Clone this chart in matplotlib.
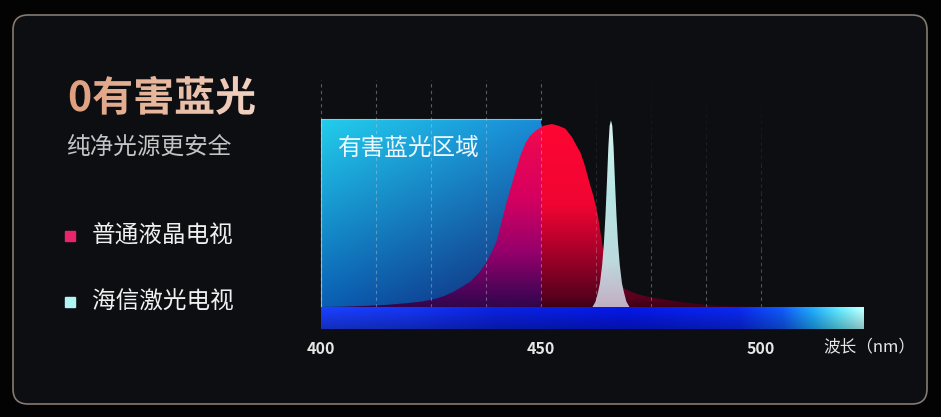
import numpy as np
import matplotlib
matplotlib.use("Agg")
import matplotlib.pyplot as plt
from matplotlib.patches import FancyBboxPatch, Rectangle, PathPatch
from matplotlib.textpath import TextPath
from matplotlib.font_manager import FontProperties
from matplotlib.transforms import Affine2D, blended_transform_factory

plt.rcParams['font.family'] = ['Noto Sans CJK SC', 'DejaVu Sans']

# ---------------- data ----------------
title = "0有害蓝光"
subtitle = "纯净光源更安全"
legend_labels = ["普通液晶电视", "海信激光电视"]
region_label = "有害蓝光区域"
x_ticks = [400, 450, 500]
x_tick_labels = ["400", "450", "500"]
x_label = "波长（nm）"
grid_nm = [400, 412.5, 425, 437.5, 450, 462.5, 475, 487.5, 500]
harmful_range = [400, 450]
spectrum_range = [400, 523.4]

lcd_nm = [400, 405, 410, 415, 420, 423, 426, 428, 430, 432, 434, 435, 436, 437.5, 439, 440,
          441, 442, 443, 444.5, 445.5, 446.5, 447.5, 449, 450.5, 452.5, 454, 455.5, 457, 458,
          459, 460, 461, 462, 463, 463.5, 464, 465, 466, 467, 468, 469, 470, 472, 474, 476,
          479, 482, 485, 488, 491, 495, 500]
lcd_val = [0, 0.002, 0.006, 0.012, 0.022, 0.03, 0.045, 0.06, 0.082, 0.11, 0.14, 0.165, 0.19,
           0.24, 0.31, 0.366, 0.46, 0.557, 0.64, 0.765, 0.84, 0.896, 0.935, 0.967, 0.99, 1.0,
           0.99, 0.975, 0.93, 0.885, 0.842, 0.77, 0.68, 0.60, 0.49, 0.41, 0.33, 0.235, 0.18,
           0.145, 0.12, 0.10, 0.088, 0.07, 0.058, 0.049, 0.037, 0.027, 0.018, 0.011, 0.006,
           0.003, 0]

laser_nm = [461.7, 462.4, 462.95, 463.4, 463.9, 464.3, 464.65, 465.0, 465.3, 465.6, 465.9,
            466.2, 466.5, 466.8, 467.15, 467.5, 467.9, 468.4, 468.85, 469.4, 470.1]
laser_val = [0, 0.03, 0.08, 0.13, 0.23, 0.35, 0.50, 0.69, 0.87, 0.99, 1.02,
             0.99, 0.87, 0.69, 0.50, 0.35, 0.23, 0.13, 0.08, 0.03, 0]

# ---------------- layout ----------------
W, H = 941, 417
PX_PER_NM = 4.4
X400_PX = 321
BASE_PX = 307
UNIT_PX = 183

fig = plt.figure(figsize=(W / 100, H / 100), dpi=100)
fig.patch.set_facecolor('#030303')

bg = fig.add_axes([0, 0, 1, 1])
bg.set_xlim(0, W); bg.set_ylim(H, 0); bg.axis('off')
bg.add_patch(FancyBboxPatch((13, 15), 914, 389,
                            boxstyle='round,pad=0,rounding_size=15',
                            fc='#0c0e12', ec='#857a72', lw=1.2))

ax = fig.add_axes([0, 0, 1, 1])
ax.patch.set_alpha(0)
ax.axis('off')
xlim = (400 - X400_PX / PX_PER_NM, 400 + (W - X400_PX) / PX_PER_NM)
ylim = ((BASE_PX - H) / UNIT_PX, BASE_PX / UNIT_PX)


def stops_to_arr(pos, cols, n):
    t = np.linspace(0, 1, n)
    cols = np.array(cols, float) / 255
    return np.stack([np.interp(t, pos, cols[:, i]) for i in range(3)], axis=-1)


def clipped_gradient(xs, ys, img, extent, z):
    poly = ax.fill_between(xs, ys, 0, color='none', lw=0)
    path = poly.get_paths()[0]
    patch = PathPatch(path, transform=ax.transData, fc='none', ec='none')
    ax.add_patch(patch)
    im = ax.imshow(img, extent=extent, origin='lower', aspect='auto',
                   zorder=z, interpolation='bilinear')
    im.set_clip_path(patch)


# harmful blue region box (2D gradient)
box_top = (BASE_PX - 119) / UNIT_PX
nx, ny = 120, 120
u = np.linspace(0, 1, nx)[None, :, None]
t = np.linspace(0, 1, ny)[:, None, None]
TL = np.array([35, 205, 235]) / 255
TR = np.array([25, 140, 215]) / 255
BL = np.array([10, 95, 180]) / 255
BR = np.array([20, 40, 115]) / 255
box = (TL * (1 - u) * t + TR * u * t + BL * (1 - u) * (1 - t) + BR * u * (1 - t))
ax.imshow(box, extent=[harmful_range[0], harmful_range[1], 0, box_top], origin='lower',
          aspect='auto', zorder=1, interpolation='bilinear')
ax.plot([harmful_range[0], harmful_range[0], harmful_range[1]], [0, box_top, box_top],
        color='#8ee0f4', lw=0.8, alpha=0.7, zorder=1.1)

# LCD spectrum: magenta inside the harmful region, red outside
NY = 200
inside = stops_to_arr([0, 0.05, 0.3, 0.6, 1.0],
                      [(50, 5, 75), (65, 5, 85), (150, 0, 108), (215, 0, 95), (242, 10, 78)], NY)
outside = stops_to_arr([0, 0.05, 0.3, 0.55, 1.0],
                       [(62, 0, 22), (88, 0, 30), (168, 0, 42), (240, 5, 50), (255, 6, 52)], NY)
ext = [398, 502, 0, 1.01]
xcols = np.linspace(ext[0], ext[1], 1041)
mask = (xcols <= harmful_range[1])[None, :, None]
red_img = np.where(mask, inside[:, None, :], outside[:, None, :])
clipped_gradient(lcd_nm, lcd_val, red_img, ext, 3)

# Laser spectrum (white-cyan spike)
las = stops_to_arr([0, 0.25, 0.6, 1.0],
                   [(200, 185, 205), (198, 228, 232), (192, 240, 240), (228, 255, 252)], NY)
las_img = np.concatenate([las[:, None, :], np.full((NY, 1, 1), 0.96)], axis=-1)
clipped_gradient(laser_nm, laser_val, las_img, [461, 471, 0, 1.03], 4)

# dashed grid lines (right-hand ones fade toward the top)
grid_top = (BASE_PX - 80) / UNIT_PX
for g in grid_nm:
    if g <= harmful_range[1]:
        ax.plot([g, g], [0, grid_top], color='#c8d0d8', lw=0.8, alpha=0.4,
                ls=(0, (3, 3)), zorder=5)
    else:
        segs = np.linspace(0, grid_top, 9)
        for k in range(8):
            a = 0.38 * (1 - k / 8) ** 1.5
            ax.plot([g, g], [segs[k], segs[k + 1]], color='#c8d0d8', lw=0.8, alpha=a,
                    ls=(0, (3, 3)), zorder=5)

# spectrum bar
bar_bot = (BASE_PX - 329) / UNIT_PX
bar_cols = stops_to_arr(
    [(v - 400) / 123.4 for v in [400, 420, 440, 470, 495, 505, 512, 518, 523.4]],
    [(25, 60, 240), (20, 50, 230), (10, 32, 212), (5, 22, 218), (10, 38, 228),
     (15, 85, 238), (30, 165, 242), (95, 222, 242), (180, 248, 248)], 300)
vf = np.linspace(0.78, 1.08, 30)[:, None, None]
bar_img = np.clip(bar_cols[None, :, :] * vf, 0, 1)
ax.imshow(bar_img, extent=[spectrum_range[0], spectrum_range[1], bar_bot, 0], origin='lower',
          aspect='auto', zorder=6, interpolation='bilinear')

# tick labels & axis label
tr = blended_transform_factory(ax.transData, bg.transData)
for xv, lab in zip(x_ticks, x_tick_labels):
    ax.text(xv, 349, lab, transform=tr, ha='center', va='center', fontsize=11.5,
            color='#e6e6e6', fontweight='semibold')
ax.text(823, 347, x_label, transform=bg.transData, ha='left', va='center', fontsize=12,
        color='#e6e6e6')
ax.text(337, 148, region_label, transform=bg.transData, ha='left', va='center',
        fontsize=17, color='#eef9ff', zorder=8)

ax.set_xlim(*xlim); ax.set_ylim(*ylim)

# ---------------- left panel text ----------------
fp = FontProperties(family='Noto Sans CJK SC', weight='bold', size=29.5)
tp = TextPath((0, 0), title, prop=fp)
ttr = Affine2D().scale(100 / 72, -100 / 72).translate(68, 111) + bg.transData
tpatch = PathPatch(tp, transform=ttr, fc='none', ec='none')
bg.add_patch(tpatch)
tcol = stops_to_arr([0, 1], [(222, 158, 125), (242, 212, 196)], 200)
im = bg.imshow(tcol[None, :, :], extent=[66, 262, 118, 72], aspect='auto',
               interpolation='bilinear', zorder=3)
im.set_clip_path(tpatch)

bg.text(66, 147, subtitle, ha='left', va='center', fontsize=17, color='#c4c4c4')
sq_cols = ['#e8256a', '#b0f4f4']
for i, (lab, c) in enumerate(zip(legend_labels, sq_cols)):
    yc = 236 + i * 66
    bg.add_patch(Rectangle((65, yc - 5), 10, 10, color=c))
    bg.text(92, yc, lab, ha='left', va='center', fontsize=17, color='#f0f0f0')
bg.set_xlim(0, W); bg.set_ylim(H, 0)

fig.savefig('out.png', dpi=100, facecolor=fig.get_facecolor())
